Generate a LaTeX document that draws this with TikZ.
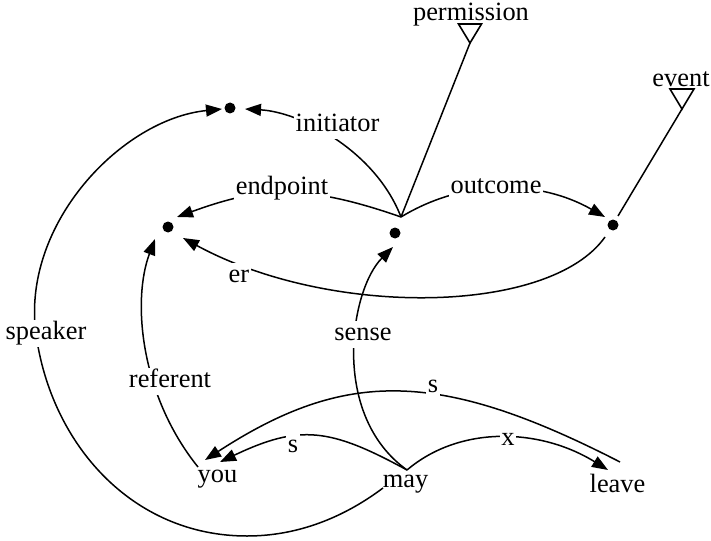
\documentclass[tikz,border=0pt]{standalone}
\usepackage{fontspec}
\setmainfont{Liberation Serif}
\usetikzlibrary{arrows.meta}
\begin{document}
\begin{tikzpicture}[x=1pt,y=-1pt,
  every node/.style={font=\fontsize{26.4}{30}\selectfont},
  blob/.style={circle,fill=black,inner sep=0pt,minimum size=11pt},
  word/.style={anchor=base,inner sep=0pt},
  lbl/.style={anchor=base,fill=white,inner sep=1.5pt,text height=18pt,text depth=6pt},
  link/.style={line width=1.5pt},
  arrowed/.style={link,-{Triangle[length=16pt,width=12pt]}},
  marker/.style={line width=1.6pt,line join=miter}]
\useasboundingbox (0,0) rectangle (711,540);

% semantic nodes
\node[blob] (dInit)  at (230,108) {};
\node[blob] (dEnd)   at (168,227) {};
\node[blob] (dSense) at (395,233) {};
\node[blob] (dOut)   at (613,225) {};
\coordinate (J) at (401,217);
\coordinate (permApex) at (470,43);
\coordinate (evtApex) at (682,109);

% words
\node[word] (you)   at (217.5,482) {you};
\node[word] (may)   at (405.5,487) {may};
\node[word] (leave) at (617.5,492) {leave};

% type markers
\draw[marker] (permApex) -- ++(-11.5,-19) -- ++(23,0) -- cycle;
\draw[marker] (evtApex) -- ++(-12,-20) -- ++(24,0) -- cycle;
\draw[link] (J) -- (permApex);
\draw[link] ([shift={(5,-9)}]dOut.center) -- (evtApex);

% semantic relations
\draw[arrowed] (J) .. controls (375,150) and (300,112) .. ([shift={(15,1)}]dInit.center);
\draw[arrowed] (J) .. controls (301,182) and (257,188) .. ([shift={(9,-10)}]dEnd.center);
\draw[arrowed] (J) .. controls (465,178) and (540,180) .. ([shift={(-8,-8)}]dOut.center);
\draw[arrowed] ([shift={(-8,12)}]dOut.center) .. controls (550,315) and (330,318) .. ([shift={(15,11)}]dEnd.center);
\draw[arrowed] ([shift={(-19.5,-15)}]you.base) .. controls (140,395) and (132,300) .. ([shift={(-13,12)}]dEnd.center);
\draw[arrowed] ([shift={(1.5,-17)}]may.base) .. controls (330,415) and (350,290) .. ([shift={(-2,14)}]dSense.center);
\draw[arrowed] ([shift={(-22.5,1)}]may.base) .. controls (343,518) and (297,536) .. (247,536)
   .. controls (132,536) and (51,444) .. (36,334)
   .. controls (21,224) and (122,119) .. ([shift={(-8,1)}]dInit.center);

% syntactic relations
\draw[arrowed] ([shift={(2.5,-30)}]leave.base) .. controls (439,369) and (345,369) .. ([shift={(-12.5,-22)}]you.base);
\draw[arrowed] ([shift={(1.5,-17)}]may.base) .. controls (330,428) and (300,424) .. ([shift={(2.5,-20)}]you.base);
\draw[arrowed] ([shift={(1.5,-17)}]may.base) .. controls (460,425) and (540,428) .. ([shift={(-9.5,-22)}]leave.base);

% labels
\node[word] (tPerm)  at (471,21) {permission};
\node[word] (tEvent) at (681,87) {event};
\node[lbl] (lInit)  at (337.5,132) {initiator};
\node[lbl] (lEnd)   at (282,194) {endpoint};
\node[lbl] (lOut)   at (496,193) {outcome};
\node[lbl] (lEr)    at (239,282) {er};
\node[lbl] (lSpk)   at (46,339) {speaker};
\node[lbl] (lRef)   at (170,387) {referent};
\node[lbl] (lSense) at (363,340) {sense};
\node[lbl] (lSTop)  at (433,392) {s};
\node[lbl] (lSLow)  at (293,452) {s};
\node[lbl] (lX)     at (508,445) {x};
\end{tikzpicture}
\end{document}
